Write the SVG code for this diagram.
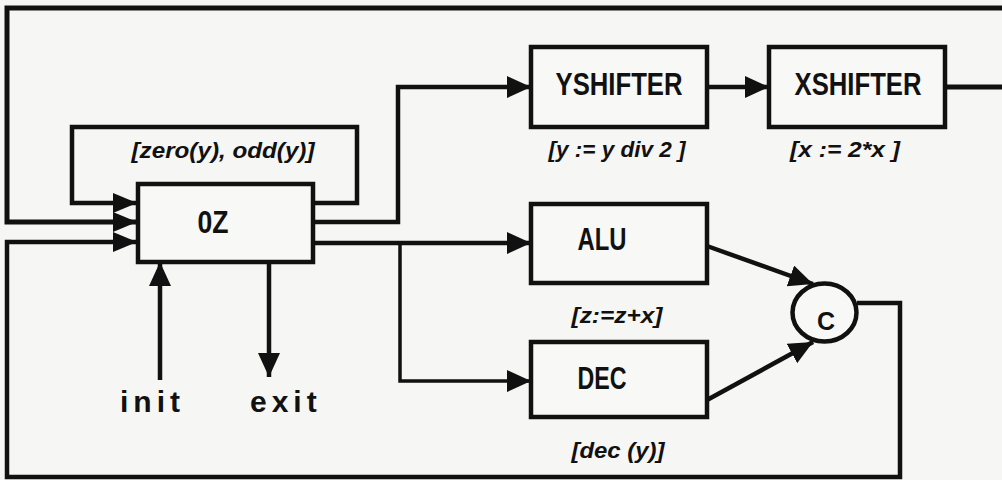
<svg xmlns="http://www.w3.org/2000/svg" width="1002" height="480" viewBox="0 0 1002 480">
  <style>
    .bg { fill: #f6f6f4; }
    .box { fill: #f8f8f6; stroke: #111; stroke-width: 4.5; }
    .wire { fill: none; stroke: #111; stroke-width: 4.5; stroke-linejoin: miter; }
    .thin { stroke-width: 3.5; }
    .name { font-family: "Liberation Sans", Arial, sans-serif; font-size: 31px; font-weight: bold; fill: #111; text-anchor: middle; }
    .ann { font-family: "Liberation Sans", Arial, sans-serif; font-size: 22px; font-style: italic; font-weight: bold; fill: #111; text-anchor: middle; }
    .io { font-family: "Liberation Sans", Arial, sans-serif; font-size: 30px; font-weight: bold; fill: #111; letter-spacing: 5px; }
  </style>
  <defs>
    <marker id="arr" markerUnits="userSpaceOnUse" markerWidth="24" markerHeight="22" refX="24" refY="11" orient="auto">
      <path d="M0,0 L24,11 L0,22 z" fill="#111"/>
    </marker>
    <marker id="arrs" markerUnits="userSpaceOnUse" markerWidth="24" markerHeight="20" refX="24" refY="10" orient="auto">
      <path d="M0,0 L24,10 L0,20 z" fill="#111"/>
    </marker>
  </defs>
  <rect class="bg" x="0" y="0" width="1002" height="480"/>

  <g id="connectors">
    <path class="wire" d="M945,87 H1010 V8 H7 V222 H137" style="stroke-width:5" marker-end="url(#arrs)"/>
    <path class="wire" d="M313,203 H357 V127 H72 V203 H137" marker-end="url(#arrs)"/>
    <path class="wire" d="M857,303 H900 V477 H7 V242 H137" marker-end="url(#arrs)"/>
    <path class="wire" d="M313,222 H398 V87 H531" marker-end="url(#arr)"/>
    <path class="wire" d="M313,243 H531" marker-end="url(#arr)"/>
    <path class="wire thin" d="M400,243 V381 H531" marker-end="url(#arr)"/>
    <path class="wire" d="M707,87 H769" marker-end="url(#arr)"/>
    <path class="wire" d="M707,246 L813,284" marker-end="url(#arr)"/>
    <path class="wire" d="M707,400 L813,342" marker-end="url(#arr)"/>
    <path class="wire" d="M160,380 V262" marker-end="url(#arr)"/>
    <path class="wire" d="M269,262 V377" marker-end="url(#arr)"/>
  </g>

  <g id="oz">
    <rect class="box" x="138" y="184" width="175" height="78"/>
    <text class="name" x="213" y="233" textLength="31" lengthAdjust="spacingAndGlyphs">0Z</text>
    <text class="ann" x="223" y="158" textLength="183" lengthAdjust="spacingAndGlyphs">[zero(y), odd(y)]</text>
  </g>

  <g id="yshifter">
    <rect class="box" x="531" y="47" width="176" height="80"/>
    <text class="name" x="619" y="95" textLength="127" lengthAdjust="spacingAndGlyphs">YSHIFTER</text>
    <text class="ann" x="617" y="157" textLength="137" lengthAdjust="spacingAndGlyphs">[y := y div 2 ]</text>
  </g>

  <g id="xshifter">
    <rect class="box" x="769" y="47" width="176" height="80"/>
    <text class="name" x="858" y="95" textLength="127" lengthAdjust="spacingAndGlyphs">XSHIFTER</text>
    <text class="ann" x="845" y="157" textLength="110" lengthAdjust="spacingAndGlyphs">[x  := 2*x ]</text>
  </g>

  <g id="alu">
    <rect class="box" x="531" y="204" width="176" height="79"/>
    <text class="name" x="602" y="250" textLength="49" lengthAdjust="spacingAndGlyphs">ALU</text>
    <text class="ann" x="617" y="323" textLength="91" lengthAdjust="spacingAndGlyphs">[z:=z+x]</text>
  </g>

  <g id="dec">
    <rect class="box" x="531" y="342" width="176" height="75"/>
    <text class="name" x="602" y="389" textLength="49" lengthAdjust="spacingAndGlyphs">DEC</text>
    <text class="ann" x="618" y="458" textLength="93" lengthAdjust="spacingAndGlyphs">[dec (y)]</text>
  </g>

  <g id="c">
    <ellipse class="box" cx="824.5" cy="312.5" rx="32" ry="29"/>
    <text class="name" x="826" y="330" style="font-size:25px">C</text>
  </g>

  <g id="init">
    <text class="io" x="120" y="412">init</text>
  </g>
  <g id="exit">
    <text class="io" x="250" y="412">exit</text>
  </g>
</svg>
